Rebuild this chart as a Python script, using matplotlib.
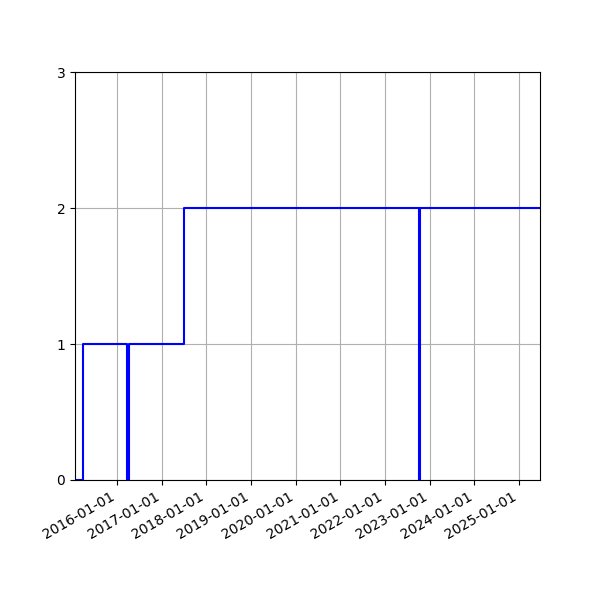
import matplotlib
matplotlib.use("Agg")
import matplotlib.pyplot as plt
import matplotlib.dates as mdates
import numpy as np
import pandas as pd

dates = ["2015-01-23", "2015-03-30", "2016-03-27", "2016-04-07",
         "2017-06-28", "2022-10-06", "2022-10-11", "2025-06-20"]
values = [0, 1, 0, 1, 2, 0, 2, 2]

x = pd.to_datetime(dates)

fig, ax = plt.subplots(figsize=(6, 6), dpi=100)
ax.step(x, values, where="post", color="b")
ax.set_xlim(x[0], x[-1])
ax.set_ylim(0, 3)
ax.set_yticks([0, 1, 2, 3])
ax.xaxis.set_major_locator(mdates.YearLocator())
ax.xaxis.set_major_formatter(mdates.DateFormatter("%Y-%m-%d"))
ax.grid(True)
fig.autofmt_xdate()
fig.savefig("out.png", dpi=100)
